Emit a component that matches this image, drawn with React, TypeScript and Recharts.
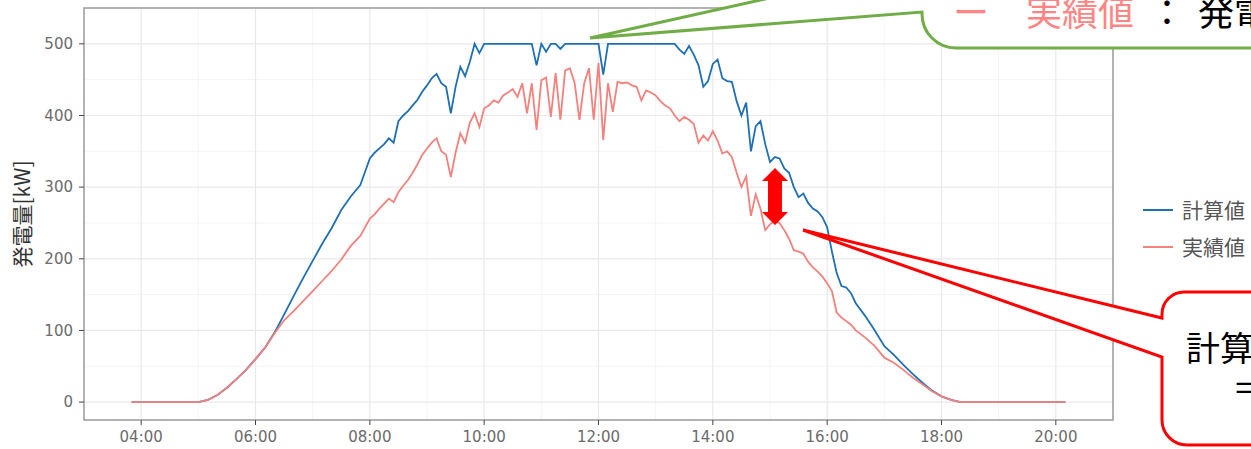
import React from 'react';
import { LineChart, Line, XAxis, YAxis, CartesianGrid, ReferenceArea } from 'recharts';

const times = [
  '03:50', '05:00', '05:10', '05:20', '05:30', '05:40', '05:50', '06:00', '06:10', '06:20',
  '06:30', '06:40', '06:50', '07:00', '07:10', '07:20', '07:30', '07:40', '07:50', '08:00',
  '08:05', '08:10', '08:15', '08:20', '08:25', '08:30', '08:35', '08:40', '08:45', '08:50', '08:55',
  '09:00', '09:05', '09:10', '09:15', '09:20', '09:25', '09:30', '09:35', '09:40', '09:45', '09:50', '09:55',
  '10:00', '10:05', '10:10', '10:15', '10:20', '10:25', '10:30', '10:35', '10:40', '10:45', '10:50', '10:55',
  '11:00', '11:05', '11:10', '11:15', '11:20', '11:25', '11:30', '11:35', '11:40', '11:45', '11:50', '11:55',
  '12:00', '12:05', '12:10', '12:15', '12:20', '12:25', '12:30', '12:35', '12:40', '12:45', '12:50', '12:55',
  '13:00', '13:05', '13:10', '13:15', '13:20', '13:25', '13:30', '13:35', '13:40', '13:45', '13:50', '13:55',
  '14:00', '14:05', '14:10', '14:15', '14:20', '14:25', '14:30', '14:35', '14:40', '14:45', '14:50', '14:55',
  '15:00', '15:05', '15:10', '15:15', '15:20', '15:25', '15:30', '15:35', '15:40', '15:45', '15:50', '15:55',
  '16:00', '16:05', '16:10', '16:15', '16:20', '16:25', '16:30',
  '16:40', '16:50', '17:00', '17:10', '17:20', '17:30', '17:40', '17:50', '18:00', '18:10', '18:20', '20:10',
];

const calcValues = [
  0, 0, 3, 10, 20, 32, 45, 60, 76, 97,
  122, 148, 173, 197, 221, 243, 268, 287, 303, 340,
  348, 354, 360, 368, 362, 392, 400, 406, 414, 422, 433,
  442, 452, 458, 445, 440, 403, 440, 468, 455, 475, 500, 487,
  500, 500, 500, 500, 500, 500, 500, 500, 500, 500, 500, 470,
  500, 489, 500, 500, 493, 500, 500, 500, 500, 500, 500, 500,
  500, 457, 500, 500, 500, 500, 500, 500, 500, 500, 500, 500,
  500, 500, 500, 500, 500, 492, 486, 497, 485, 470, 440, 448,
  472, 478, 452, 448, 447, 420, 400, 418, 350, 385, 392, 360,
  335, 342, 340, 326, 320, 300, 286, 291, 278, 270, 266, 258,
  244, 210, 180, 162, 160, 152, 138,
  120, 100, 78, 66, 52, 39, 27, 16, 8, 3, 0, 0,
];

const actualValues = [
  0, 0, 3, 10, 20, 32, 45, 60, 76, 96,
  114, 127, 141, 155, 169, 183, 199, 218, 232, 256,
  262, 270, 277, 284, 279, 293, 302, 310, 320, 332, 345,
  354, 362, 368, 350, 345, 314, 348, 375, 362, 390, 403, 384,
  410, 414, 421, 418, 428, 432, 437, 426, 445, 403, 445, 380,
  449, 453, 398, 459, 394, 463, 466, 445, 394, 445, 466, 394,
  473, 366, 445, 405, 447, 445, 446, 442, 440, 421, 435, 432,
  428, 420, 414, 410, 400, 392, 398, 394, 388, 362, 372, 365,
  378, 365, 347, 350, 342, 320, 300, 315, 260, 290, 270, 240,
  248, 253, 250, 240, 228, 212, 210, 207, 196, 188, 182, 175,
  166, 155, 125, 118, 113, 108, 100,
  90, 78, 62, 55, 45, 34, 25, 15, 8, 3, 0, 0,
];

const xTicks = [4, 6, 8, 10, 12, 14, 16, 18, 20];
const xMinorTicks = [3, 5, 7, 9, 11, 13, 15, 17, 19, 21];
const yTicks = [0, 100, 200, 300, 400, 500];
const yMinorTicks = [50, 150, 250, 350, 450];

const seriesNames = { calc: '計算値', actual: '実績値' };
const yAxisLabel = '発電量[kW]';

const BLUE = '#1f6fb5';
const PINK = '#f3817d';

const toHours = (t: string) => {
  const [h, m] = t.split(':').map(Number);
  return h + m / 60;
};
const fmtTime = (v: number) => `${String(Math.round(v)).padStart(2, '0')}:00`;

const data = times.map((t, i) => ({ t: toHours(t), calc: calcValues[i], actual: actualValues[i] }));

const cjk = '"Noto Sans CJK JP", "Noto Sans", sans-serif';

export default function App() {
  return (
    <div style={{ position: 'absolute', left: 0, top: 0, width: 1251, height: 449, overflow: 'hidden', background: '#fff' }}>
      <LineChart width={1251} height={449} data={data} margin={{ top: 8, right: 138, left: 0, bottom: 0 }}>
        <CartesianGrid verticalValues={xMinorTicks} horizontalValues={yMinorTicks} stroke="#f4f4f4" strokeWidth={1} />
        <CartesianGrid verticalValues={xTicks} horizontalValues={yTicks} stroke="#e9e9e9" strokeWidth={1.2} />
        <XAxis
          dataKey="t"
          type="number"
          domain={[3, 21]}
          allowDataOverflow
          ticks={xTicks}
          tickFormatter={fmtTime}
          height={29}
          axisLine={false}
          tickLine={{ stroke: '#444' }}
          tickSize={5}
          tickMargin={6}
          tick={{ fill: '#6b6b6b', fontSize: 15, fontFamily: '"DejaVu Sans", sans-serif' }}
        />
        <YAxis
          type="number"
          domain={[-25, 550]}
          allowDataOverflow
          ticks={yTicks}
          width={84}
          axisLine={false}
          tickLine={{ stroke: '#444' }}
          tickSize={5}
          tickMargin={6}
          tick={{ fill: '#6b6b6b', fontSize: 15, fontFamily: '"DejaVu Sans", sans-serif' }}
        />
        <Line type="linear" dataKey="calc" name={seriesNames.calc} stroke={BLUE} strokeWidth={1.8} dot={false} isAnimationActive={false} />
        <Line type="linear" dataKey="actual" name={seriesNames.actual} stroke={PINK} strokeWidth={1.8} dot={false} isAnimationActive={false} />
        <ReferenceArea x1={3} x2={21} y1={-25} y2={550} fill="none" stroke="#9a9a9a" strokeWidth={1.5} ifOverflow="visible" />
      </LineChart>

      <svg width={1251} height={449} style={{ position: 'absolute', left: 0, top: 0, pointerEvents: 'none' }}>
        {/* y axis title */}
        <text
          x={0}
          y={0}
          transform="translate(30,214) rotate(-90)"
          textAnchor="middle"
          fontSize={21}
          fill="#333"
          fontFamily={cjk}
        >
          {yAxisLabel}
        </text>

        {/* legend */}
        <line x1={1143} y1={210} x2={1173} y2={210} stroke={BLUE} strokeWidth={2} />
        <text x={1182} y={218} fontSize={21} fill="#555" fontFamily={cjk}>{seriesNames.calc}</text>
        <line x1={1143} y1={247} x2={1173} y2={247} stroke={PINK} strokeWidth={2} />
        <text x={1182} y={255} fontSize={21} fill="#555" fontFamily={cjk}>{seriesNames.actual}</text>

        {/* green callout */}
        <path
          d="M 590 38 L 922 12 L 922 14 A 34 34 0 0 0 956 48 L 1262 48 L 1262 -100 L 922 -100 L 922 -36 Z"
          fill="#fff"
          stroke="#70ad47"
          strokeWidth={3}
          strokeLinejoin="miter"
        />
        <text x={953} y={26} fontSize={36} fill="#ff8585" fontFamily={cjk}>ー</text>
        <text x={1026} y={26} fontSize={36} fill="#ff8585" fontFamily={cjk}>実績値</text>
        <text x={1149} y={26} fontSize={36} fill="#000" fontFamily={cjk}>：</text>
        <text x={1198} y={26} fontSize={36} fill="#000" fontFamily={cjk}>発電量</text>

        {/* red double arrow */}
        <polygon
          points="775,168 788,181 782,181 782,212 788,212 775,225 762,212 768,212 768,181 762,181"
          fill="#ff0000"
        />

        {/* red callout */}
        <path
          d="M 803 230 L 1162 318 L 1162 314 A 22 22 0 0 1 1184 292 L 1262 292 L 1262 445 L 1187 445 A 25 25 0 0 1 1162 420 L 1162 357 Z"
          fill="#fff"
          stroke="#ff0000"
          strokeWidth={3}
        />
        <text x={1186} y={361} fontSize={34} fill="#000" fontFamily={cjk}>計算値</text>
        <text x={1232} y={401} fontSize={34} fill="#000" fontFamily={cjk}>＝</text>
      </svg>
    </div>
  );
}
